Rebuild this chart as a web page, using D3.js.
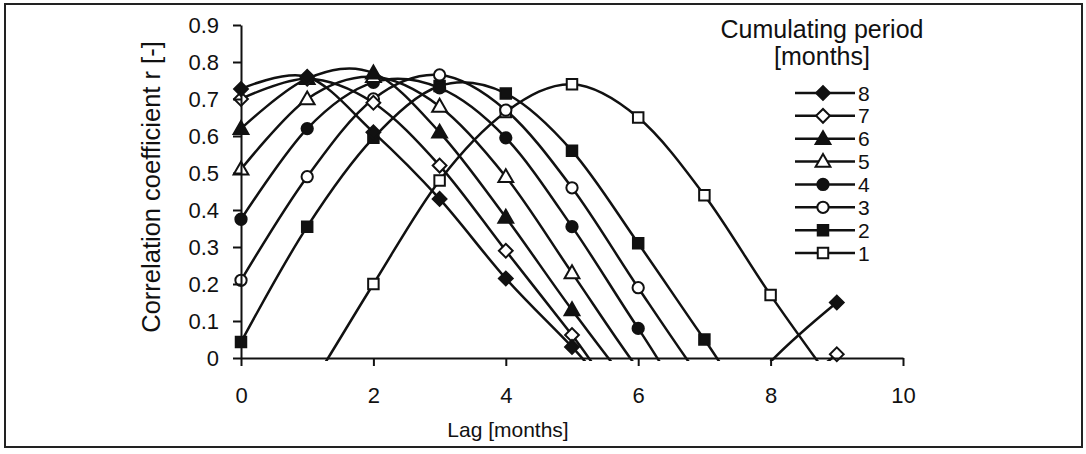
<!DOCTYPE html>
<html>
<head>
<meta charset="utf-8">
<script src="https://cdn.jsdelivr.net/npm/d3@7"></script>
<style>
  html, body { margin: 0; padding: 0; background: #fff; }
  svg { display: block; font-family: "Liberation Sans", Arial, sans-serif; }
</style>
</head>
<body>
<svg id="chart" width="1086" height="454"></svg>
<script>
// ---- data ----
const lags = [0, 1, 2, 3, 4, 5, 6, 7, 8, 9];
const s8 = [0.727, 0.76, 0.61, 0.43, 0.215, 0.03, -0.16, -0.22, -0.01, 0.15];
const s7 = [0.70, 0.755, 0.69, 0.52, 0.29, 0.062, -0.17, -0.26, -0.13, 0.01];
const s6 = [0.62, 0.755, 0.77, 0.61, 0.38, 0.13, -0.10, -0.28, -0.30, -0.20];
const s5 = [0.51, 0.70, 0.76, 0.68, 0.49, 0.23, -0.03, -0.25, -0.30, -0.25];
const s4 = [0.375, 0.62, 0.745, 0.73, 0.595, 0.355, 0.08, -0.18, -0.30, -0.30];
const s3 = [0.21, 0.49, 0.70, 0.765, 0.67, 0.46, 0.19, -0.07, -0.30, -0.35];
const s2 = [0.043, 0.355, 0.595, 0.735, 0.715, 0.56, 0.31, 0.05, -0.20, -0.30];
const s1 = [-0.35, -0.09, 0.20, 0.48, 0.665, 0.74, 0.65, 0.44, 0.17, -0.08];
const seriesNames = ["8", "7", "6", "5", "4", "3", "2", "1"];
const seriesValues = [s8, s7, s6, s5, s4, s3, s2, s1];
const xTicks = [0, 2, 4, 6, 8, 10];
const yTicks = [0, 0.1, 0.2, 0.3, 0.4, 0.5, 0.6, 0.7, 0.8, 0.9];
const xTitle = "Lag [months]";
const yTitle = "Correlation coefficient r [-]";
const legendTitle = ["Cumulating period", "[months]"];

// marker styles per series (shape, filled)
const markerStyle = {
  "8": { shape: "diamond", filled: true },
  "7": { shape: "diamond", filled: false },
  "6": { shape: "triangle", filled: true },
  "5": { shape: "triangle", filled: false },
  "4": { shape: "circle", filled: true },
  "3": { shape: "circle", filled: false },
  "2": { shape: "square", filled: true },
  "1": { shape: "square", filled: false }
};

const svg = d3.select("#chart");

// frame
svg.append("rect").attr("x", 5).attr("y", 4).attr("width", 1077).attr("height", 443)
  .attr("fill", "none").attr("stroke", "#222").attr("stroke-width", 2);

const x = d3.scaleLinear().domain([0, 10]).range([241, 903]);
const y = d3.scaleLinear().domain([0, 0.9]).range([358, 25]);

// clip for lines
svg.append("defs").append("clipPath").attr("id", "plotclip")
  .append("rect").attr("x", x(0)).attr("y", y(0.9) - 10)
  .attr("width", x(10) - x(0)).attr("height", y(0) - y(0.9) + 13);

function symbolPath(shape) {
  if (shape === "diamond") return d3.symbol().type(d3.symbolSquare).size(95)();
  if (shape === "triangle") return d3.symbol().type(d3.symbolTriangle).size(95)();
  if (shape === "circle") return d3.symbol().type(d3.symbolCircle).size(100)();
  return d3.symbol().type(d3.symbolSquare).size(110)();
}
function symbolTransform(shape, px, py) {
  if (shape === "diamond") return `translate(${px},${py}) rotate(45)`;
  if (shape === "triangle") return `translate(${px},${py + 1})`;
  return `translate(${px},${py})`;
}

const line = d3.line()
  .x((d, i) => x(lags[i]))
  .y(d => y(d))
  .curve(d3.curveCatmullRom.alpha(0));

const plot = svg.append("g");

// draw series from 1 up to 8
const order = seriesNames.map((n, i) => i).reverse();
order.forEach(i => {
  const name = seriesNames[i];
  const vals = seriesValues[i];
  const st = markerStyle[name];
  plot.append("path")
    .attr("d", line(vals))
    .attr("clip-path", "url(#plotclip)")
    .attr("fill", "none")
    .attr("stroke", "#111")
    .attr("stroke-width", 2.5);
  plot.selectAll(null)
    .data(vals.map((v, j) => ({ v, lag: lags[j] })).filter(d => d.v >= 0 && d.v <= 0.9))
    .enter().append("path")
    .attr("d", symbolPath(st.shape))
    .attr("transform", d => symbolTransform(st.shape, x(d.lag), y(d.v)))
    .attr("fill", st.filled ? "#111" : "#fff")
    .attr("stroke", "#111")
    .attr("stroke-width", 2);
});

// axes
const xAxis = d3.axisBottom(x).tickValues(xTicks).tickSize(8).tickSizeOuter(0)
  .tickFormat(d3.format("d"));
const gx = svg.append("g").attr("transform", `translate(0,${y(0)})`).call(xAxis);
gx.select(".domain").attr("stroke", "#111").attr("stroke-width", 2);
gx.selectAll(".tick line").attr("stroke", "#111").attr("stroke-width", 2);
gx.selectAll(".tick text").attr("font-size", 22).attr("fill", "#111")
  .attr("y", 29).attr("dy", "0.71em")
  .attr("font-family", "Liberation Sans, Arial, sans-serif");

const yAxis = d3.axisLeft(y).tickValues(yTicks).tickSize(8).tickSizeOuter(0)
  .tickFormat(d => d === 0 ? "0" : d3.format(".1f")(d));
const gy = svg.append("g").attr("transform", `translate(${x(0)},0)`).call(yAxis);
gy.select(".domain").attr("stroke", "#111").attr("stroke-width", 2);
gy.selectAll(".tick line").attr("stroke", "#111").attr("stroke-width", 2);
gy.selectAll(".tick text").attr("font-size", 22).attr("fill", "#111").attr("x", -22)
  .attr("font-family", "Liberation Sans, Arial, sans-serif");

// axis titles
svg.append("text").attr("x", 508).attr("y", 437).attr("text-anchor", "middle")
  .attr("font-size", 21).attr("fill", "#111").text(xTitle);
svg.append("text").attr("transform", "translate(160,187) rotate(-90)")
  .attr("text-anchor", "middle").attr("font-size", 25.5).attr("fill", "#111").text(yTitle);

// legend
svg.append("text").attr("x", 822).attr("y", 38).attr("text-anchor", "middle")
  .attr("font-size", 25).attr("fill", "#111").text(legendTitle[0]);
svg.append("text").attr("x", 822).attr("y", 65).attr("text-anchor", "middle")
  .attr("font-size", 25).attr("fill", "#111").text(legendTitle[1]);

const legendRowY = d3.scalePoint().domain(seriesNames).range([93, 253]);
const lg = svg.append("g");
seriesNames.forEach(name => {
  const st = markerStyle[name];
  const ly = legendRowY(name);
  lg.append("line").attr("x1", 795).attr("x2", 855).attr("y1", ly).attr("y2", ly)
    .attr("stroke", "#111").attr("stroke-width", 2.5);
  lg.append("path").attr("d", symbolPath(st.shape))
    .attr("transform", symbolTransform(st.shape, 823, ly))
    .attr("fill", st.filled ? "#111" : "#fff").attr("stroke", "#111").attr("stroke-width", 2);
  lg.append("text").attr("x", 858).attr("y", ly).attr("dy", "0.36em")
    .attr("font-size", 21).attr("fill", "#111").text(name);
});
</script>
</body>
</html>
